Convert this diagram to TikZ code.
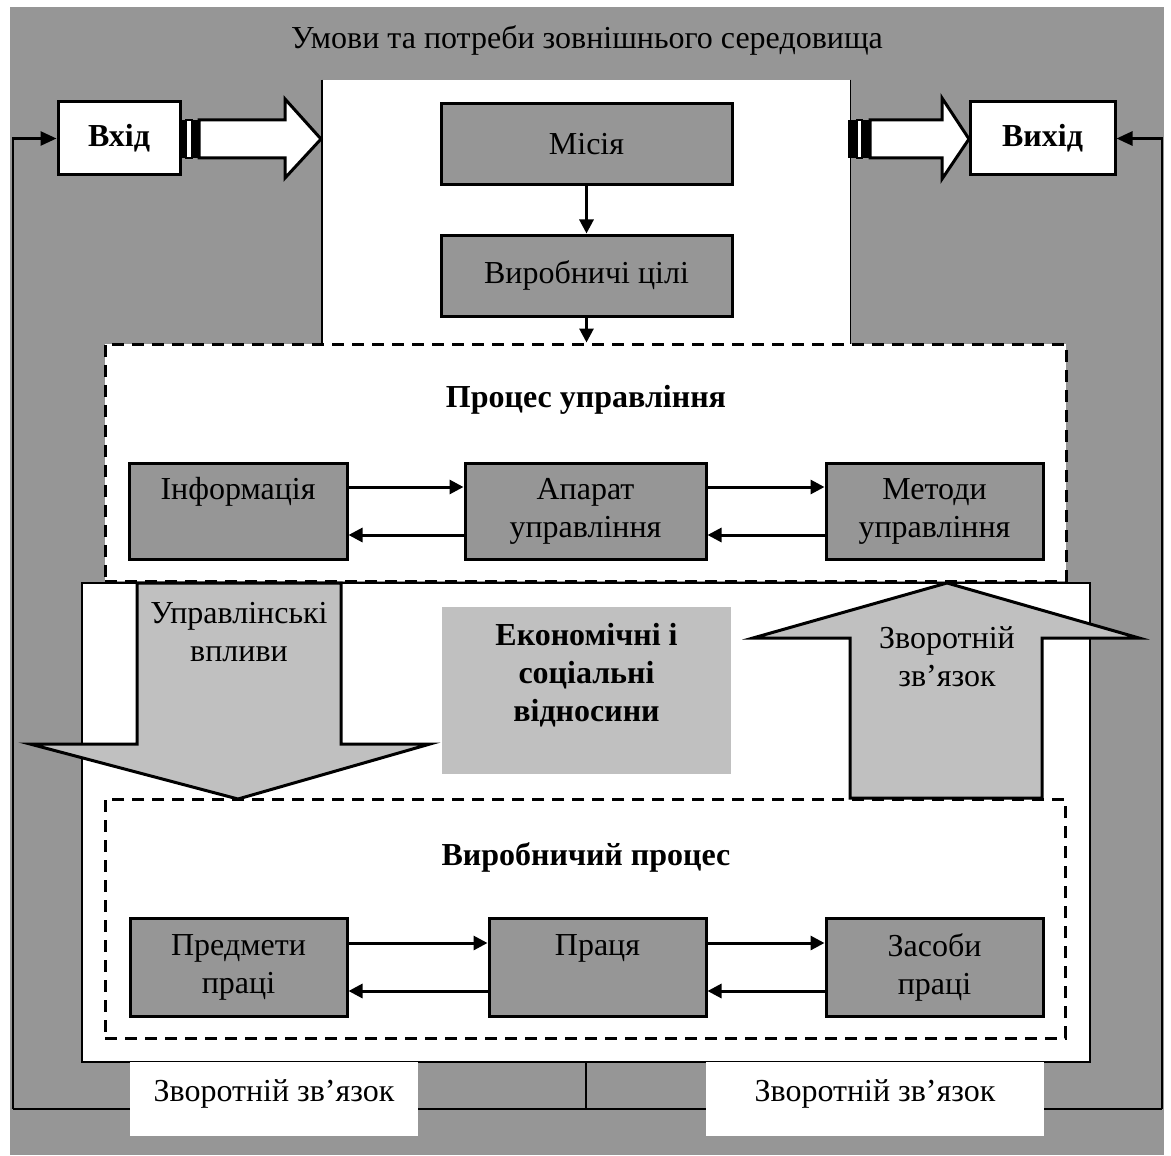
\documentclass[tikz,border=0pt]{standalone}
\usepackage{fontspec}
\setmainfont{Liberation Serif}
\usetikzlibrary{arrows.meta}
\definecolor{bg}{RGB}{150,150,150}
\definecolor{lg}{RGB}{192,192,192}
\tikzset{
  gbox/.style={draw=black, line width=1.5pt, fill=bg, inner sep=0pt, align=center},
  wbox/.style={draw=black, line width=1.5pt, fill=white, inner sep=0pt, align=center, font=\fontsize{16}{19}\selectfont\bfseries},
  dbox/.style={draw=black, line width=1.5pt, dash pattern=on 6pt off 4pt, inner sep=0pt},
  arr/.style={line width=1.5pt, -{Triangle[length=7pt,width=7pt]}},
  fb/.style={line width=1.4pt},
  blk/.style={draw=black, line width=1.5pt, line join=miter},
  txt/.style={align=center, inner sep=0pt}
}
\begin{document}
\begin{tikzpicture}[x=0.5pt,y=-0.5pt,font=\fontsize{16}{19}\selectfont]
\useasboundingbox (0,0) rectangle (1171,1155);
% background
\fill[bg] (10,7) rectangle (1164,1155);
\node[txt] (title) at (587,40) {Умови та потреби зовнішнього середовища};
% central column
\node[fill=white, minimum width=264pt, minimum height=132pt, inner sep=0pt] (column) at (586,212) {};
\draw[line width=0.9pt] (column.north west) -- (column.south west);
\draw[line width=0.9pt] (column.north east) -- (column.south east);
% lower panel
\node[draw=black, line width=0.6pt, fill=white, minimum width=504pt, minimum height=239.5pt, inner sep=0pt] (panel) at (586,822.5) {};
% upper dashed box
\node[dbox, fill=white, minimum width=480.5pt, minimum height=118.5pt] (upbox) at (585.5,462.5) {};
\node[txt, font=\fontsize{16}{19}\selectfont\bfseries] (uptitle) at (586,400) {Процес управління};
% mission and goals
\node[gbox, minimum width=145.5pt, minimum height=40.5pt] (misia) at (586.5,144.5) {Місія};
\node[gbox, minimum width=145.5pt, minimum height=40.5pt] (cili) at (586.5,275.5) {Виробничі цілі};
\draw[arr] (misia) -- (cili);
\draw[arr] (cili) -- (cili |- upbox.north);
% management boxes
\node[gbox, minimum width=109pt, minimum height=48pt] (info) at (238,511) {Інформація\\\phantom{управління}};
\node[gbox, minimum width=120.5pt, minimum height=48pt] (aparat) at (585.5,511) {Апарат\\управління};
\node[gbox, minimum width=108.5pt, minimum height=48pt] (metody) at (934.5,511) {Методи\\управління};
\draw[arr] ([yshift=12pt]info.east) -- ([yshift=12pt]aparat.west);
\draw[arr] ([yshift=-12pt]aparat.west) -- ([yshift=-12pt]info.east);
\draw[arr] ([yshift=12pt]aparat.east) -- ([yshift=12pt]metody.west);
\draw[arr] ([yshift=-12pt]metody.west) -- ([yshift=-12pt]aparat.east);
% down arrow
\draw[blk, fill=lg] (137,583) -- (341,583) -- (341,744) -- (430,744) -- (238,799) -- (30,744) -- (137,744) -- cycle;
\node[txt] (vplyvy) at (239,632) {Управлінські\\впливи};
% up arrow
\draw[blk, fill=lg] (850,798) -- (1042,798) -- (1042,638) -- (1139,638) -- (947,583) -- (753,638) -- (850,638) -- cycle;
\node[txt] (zvup) at (947,657) {Зворотній\\зв’язок};
% economic relations
\node[fill=lg, minimum width=144.5pt, minimum height=83.5pt, inner sep=0pt] (econ) at (586.5,690.5) {};
\node[txt, font=\fontsize{16}{19}\selectfont\bfseries] (econtxt) at ([yshift=7.75pt]econ.center) {Економічні і\\соціальні\\відносини};
% lower dashed box
\node[dbox, minimum width=480pt, minimum height=119.5pt] (lowbox) at (585,918.5) {};
\node[txt, font=\fontsize{16}{19}\selectfont\bfseries] (lowtitle) at (586,857) {Виробничий процес};
\node[gbox, minimum width=108.5pt, minimum height=49pt] (predm) at (238.5,967) {Предмети\\праці};
\node[gbox, minimum width=108.5pt, minimum height=49pt] (pracia) at (597.5,967) {Праця\\\phantom{праці}};
\node[gbox, minimum width=108.5pt, minimum height=49pt] (zasoby) at (934.5,967) {Засоби\\праці};
\draw[arr] ([yshift=12pt]predm.east) -- ([yshift=12pt]pracia.west);
\draw[arr] ([yshift=-12pt]pracia.west) -- ([yshift=-12pt]predm.east);
\draw[arr] ([yshift=12pt]pracia.east) -- ([yshift=12pt]zasoby.west);
\draw[arr] ([yshift=-12pt]zasoby.west) -- ([yshift=-12pt]pracia.east);
% input / output
\node[wbox, minimum width=61pt, minimum height=36.5pt] (vhid) at (119,138.5) {Вхід};
\node[wbox, minimum width=72.5pt, minimum height=36.5pt] (vyhid) at (1042.5,138.5) {Вихід};
% striped arrow from input
\fill[black] (180,120) rectangle (185,158);
\draw[line width=1pt, fill=white] (186,120) rectangle (192,158);
\fill[black] (192,120) rectangle (198,158);
\draw[blk, fill=white] (199,120) -- (285,120) -- (285,99) -- (321,139) -- (285,178) -- (285,158) -- (199,158) -- cycle;
% striped arrow to output
\fill[black] (848,120) rectangle (857,158);
\draw[line width=1pt, fill=white] (857,120) rectangle (862,158);
\fill[black] (862,120) rectangle (869,158);
\draw[blk, fill=white] (870,120) -- (942,120) -- (942,98) -- (969,139) -- (942,179) -- (942,158) -- (870,158) -- cycle;
% feedback loop
\coordinate (bl) at (13,1109);
\coordinate (br) at (1162,1109);
\coordinate (bm) at (586,1109);
\draw[fb] (bl) -- (br);
\draw[line width=1pt] (panel.south -| bm) -- (bm);
\draw[fb, -{Triangle[length=8pt,width=7pt]}] (bl) |- (vhid.west);
\draw[fb, -{Triangle[length=8pt,width=7pt]}] (br) |- (vyhid.east);
\node[fill=white, minimum width=144pt, minimum height=37pt, inner sep=0pt] (fbL) at (274,1099) {};
\node[txt] (fbLt) at (274,1094) {Зворотній зв’язок};
\node[fill=white, minimum width=169pt, minimum height=37pt, inner sep=0pt] (fbR) at (875,1099) {};
\node[txt] (fbRt) at (875,1094) {Зворотній зв’язок};
\end{tikzpicture}
\end{document}
